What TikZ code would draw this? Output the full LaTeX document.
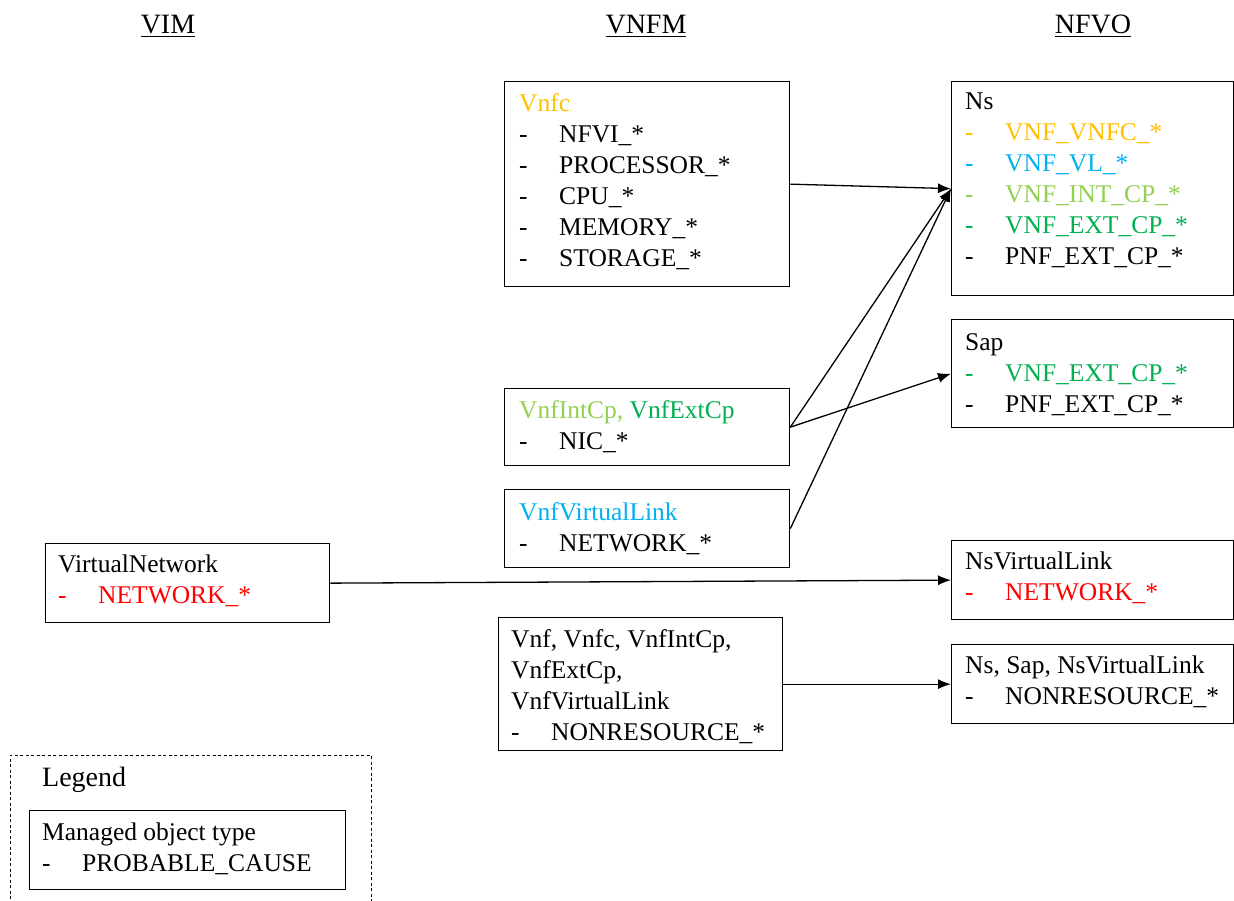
\documentclass[tikz,border=0pt]{standalone}
\usepackage{fontspec}
\setmainfont{Liberation Serif}
\usetikzlibrary{arrows.meta}

\definecolor{vnfcyellow}{HTML}{FFC000}
\definecolor{vlblue}{HTML}{00B0F0}
\definecolor{intgreen}{HTML}{92D050}
\definecolor{extgreen}{HTML}{00B050}
\definecolor{nwred}{HTML}{FF0000}

% one "- ITEM" line of a box
\newcommand{\itm}[2][black]{{\color{#1}\makebox[40pt][l]{-}#2}}

\tikzset{
  mobox/.style={draw, line width=1.3pt, anchor=north west, inner sep=0pt},
  motext/.style={anchor=north west, inner sep=0pt, align=left,
                 font=\fontsize{25.5}{31}\selectfont},
  hdr/.style={anchor=base, font=\fontsize{28}{32}\selectfont},
  arr/.style={-{Latex[length=13pt,width=10pt]}, line width=1.3pt},
}

\begin{document}
\begin{tikzpicture}[x=1pt,y=-1pt]
            \useasboundingbox (0,0) rectangle (1234,901);

            % column titles
            \node[hdr] (vim)  at (168,34)  {\underline{VIM}};
            \node[hdr] (vnfm) at (646,34)  {\underline{VNFM}};
            \node[hdr] (nfvo) at (1093,34) {\underline{NFVO}};

            % VNFM
            \node[mobox, minimum width=285, minimum height=205] (vnfc) at (504,81) {};
            \node[motext] (vnfcT) at ([shift={(15,12)}]vnfc.north west)
                {{\color{vnfcyellow}Vnfc}\\ \itm{NFVI\_*}\\ \itm{PROCESSOR\_*}\\
                 \itm{CPU\_*}\\ \itm{MEMORY\_*}\\ \itm{STORAGE\_*}};

            \node[mobox, minimum width=285, minimum height=77] (cp) at (504,388) {};
            \node[motext] (cpT) at ([shift={(15,12)}]cp.north west)
                {{\color{intgreen}VnfIntCp,} {\color{extgreen}VnfExtCp}\\ \itm{NIC\_*}};

            \node[mobox, minimum width=285, minimum height=78] (vl) at (504,489) {};
            \node[motext] (vlT) at ([shift={(15,13)}]vl.north west)
                {{\color{vlblue}VnfVirtualLink}\\ \itm{NETWORK\_*}};

            \node[mobox, minimum width=284, minimum height=133] (vnf) at (498,617) {};
            \node[motext] (vnfT) at ([shift={(13,12)}]vnf.north west)
                {Vnf, Vnfc, VnfIntCp,\\ VnfExtCp,\\ VnfVirtualLink\\ \itm{NONRESOURCE\_*}};

            % VIM
            \node[mobox, minimum width=284, minimum height=79] (vn) at (45,543) {};
            \node[motext] (vnT) at ([shift={(13,12)}]vn.north west)
                {VirtualNetwork\\ \itm[nwred]{NETWORK\_*}};

            % NFVO
            \node[mobox, minimum width=282, minimum height=214] (ns) at (951,81) {};
            \node[motext] (nsT) at ([shift={(14,12)}]ns.north west)
                {Ns\\ \itm[vnfcyellow]{VNF\_VNFC\_*}\\ \itm[vlblue]{VNF\_VL\_*}\\
                 \itm[intgreen]{VNF\_INT\_CP\_*}\\ \itm[extgreen]{VNF\_EXT\_CP\_*}\\
                 \itm{PNF\_EXT\_CP\_*}};

            \node[mobox, minimum width=282, minimum height=108] (sap) at (951,319) {};
            \node[motext] (sapT) at ([shift={(14,14)}]sap.north west)
                {Sap\\ \itm[extgreen]{VNF\_EXT\_CP\_*}\\ \itm{PNF\_EXT\_CP\_*}};

            \node[mobox, minimum width=282, minimum height=79] (nsvl) at (951,540) {};
            \node[motext] (nsvlT) at ([shift={(14,12)}]nsvl.north west)
                {NsVirtualLink\\ \itm[nwred]{NETWORK\_*}};

            \node[mobox, minimum width=282, minimum height=79] (nsall) at (951,644) {};
            \node[motext] (nsallT) at ([shift={(14,12)}]nsall.north west)
                {Ns, Sap, NsVirtualLink\\ \itm{NONRESOURCE\_*}};

            % legend
            \node[mobox, line width=0.9pt, dash pattern=on 3pt off 2.5pt,
                  minimum width=361, minimum height=160] (legend) at (10,755) {};
            \node[motext, font=\fontsize{28}{32}\selectfont] (legendT)
                at ([shift={(32,12)}]legend.north west) {Legend};
            \node[mobox, minimum width=316, minimum height=79] (mot) at (29,810) {};
            \node[motext] (motT) at ([shift={(13,13)}]mot.north west)
                {Managed object type\\ \itm{PROBABLE\_CAUSE}};

            % mappings
            \draw[arr] (vnfc.east) -- (ns.west);
            \draw[arr] (cp.east) -- (ns.west);
            \draw[arr] (cp.east) -- (sap.west);
            \draw[arr] (vl.east) -- (ns.west);
            \draw[arr] (vn.east) -- (nsvl.west);
            \draw[arr] (vnf.east) -- (nsall.west);
\end{tikzpicture}
\end{document}
